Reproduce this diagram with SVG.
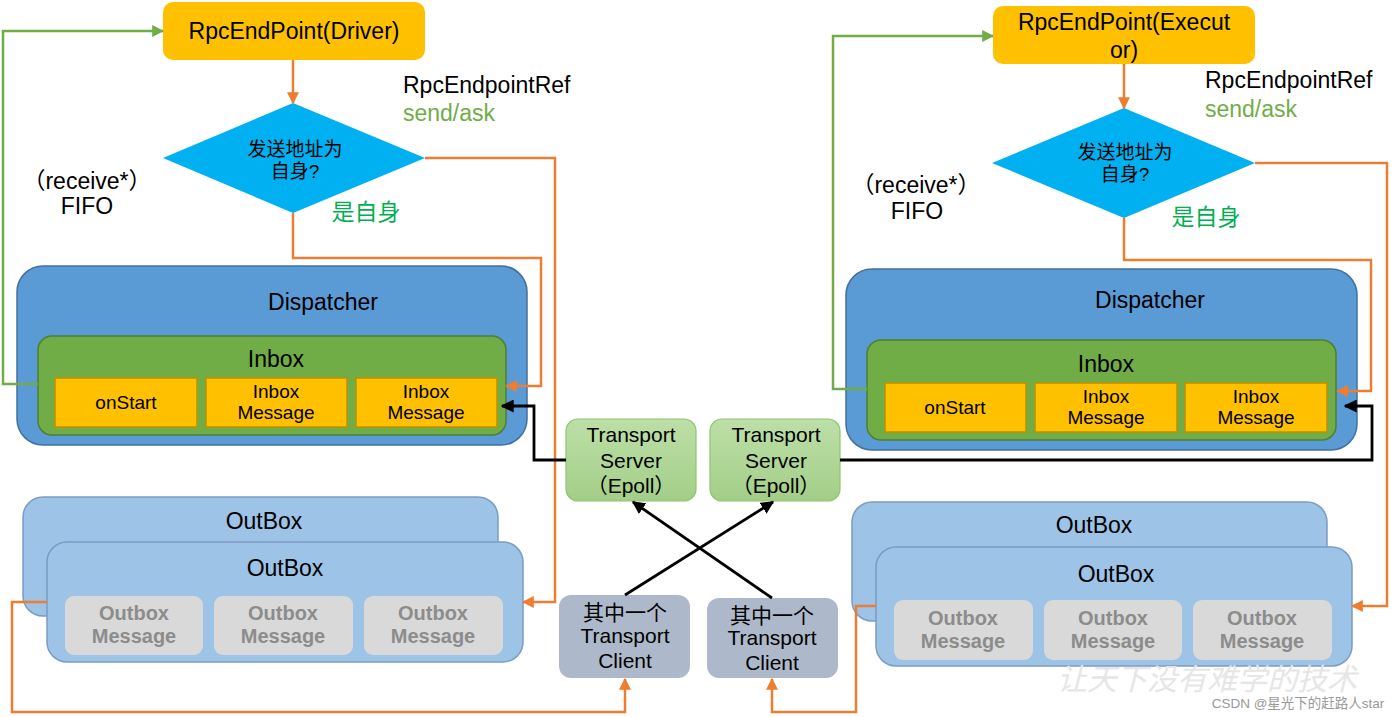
<svg xmlns="http://www.w3.org/2000/svg" width="1400" height="717" viewBox="0 0 1400 717">
<defs>
<style>
text{font-family:"Liberation Sans","Noto Sans CJK SC",sans-serif;fill:#000;text-anchor:middle}
.t22{font-size:23px}
.t21{font-size:21px}
.t19{font-size:19px}
.ylw{fill:#FFC000}
.cell{fill:#FFC000;stroke:#BF9000;stroke-width:1.5}
.dia{fill:#00B0F0}
.disp{fill:#5B9BD5;stroke:#41719C;stroke-width:1.5}
.inbox{fill:#70AD47;stroke:#507E32;stroke-width:1.5}
.outbox{fill:#9DC3E6;stroke:#7B9CC4;stroke-width:1.5}
.omsg{fill:#D9D9D9}
.omt{font-size:20px;font-weight:bold;fill:#8C8C8C}
.ts{fill:url(#tsg);stroke:#8FC470;stroke-width:1.2}
.tc{fill:#ADB9CA}
.or{fill:none;stroke:#ED7D31;stroke-width:2.5;marker-end:url(#ao)}
.gr{fill:none;stroke:#70AD47;stroke-width:2.5;marker-end:url(#ag)}
.bk{fill:none;stroke:#000;stroke-width:2.8;marker-end:url(#ab)}
</style>
<linearGradient id="tsg" x1="0" y1="0" x2="0" y2="1">
<stop offset="0" stop-color="#BDDFA8"/>
<stop offset="1" stop-color="#A3CE87"/>
</linearGradient>
<marker id="ao" viewBox="0 0 10 10" refX="9" refY="5" markerWidth="12" markerHeight="12" markerUnits="userSpaceOnUse" orient="auto"><path d="M0,0 L10,5 L0,10 z" fill="#ED7D31"/></marker>
<marker id="ag" viewBox="0 0 10 10" refX="9" refY="5" markerWidth="12" markerHeight="12" markerUnits="userSpaceOnUse" orient="auto"><path d="M0,0 L10,5 L0,10 z" fill="#70AD47"/></marker>
<marker id="ab" viewBox="0 0 10 10" refX="9" refY="5" markerWidth="13" markerHeight="13" markerUnits="userSpaceOnUse" orient="auto"><path d="M0,0 L10,5 L0,10 z" fill="#000"/></marker>
</defs>
<rect width="1400" height="717" fill="#fff"/>

<!-- LEFT SIDE -->
<g id="rpc-driver">
<rect x="163" y="2" width="262" height="58" rx="10" class="ylw"/>
<text x="294" y="39" class="t22">RpcEndPoint(Driver)</text>
</g>
<g id="diamond-left">
<polygon points="293,103 425,158 293,213 163,158" class="dia"/>
<text x="295" y="156" class="t19">发送地址为</text>
<text x="295" y="178" class="t19">自身?</text>
</g>
<g id="labels-left">
<text x="403" y="93" class="t22" style="text-anchor:start">RpcEndpointRef</text>
<text x="403" y="121" class="t22" style="text-anchor:start;fill:#70AD47">send/ask</text>
<text x="87" y="189" class="t22">（receive*）</text>
<text x="87" y="214" class="t22">FIFO</text>
<text x="366" y="220" style="font-size:23px;fill:#00B050">是自身</text>
</g>
<g id="dispatcher-left">
<rect x="17" y="266" width="510" height="179" rx="26" class="disp"/>
<text x="323" y="310" class="t22">Dispatcher</text>
</g>
<g id="inbox-left">
<rect x="38" y="336" width="468" height="99" rx="14" class="inbox"/>
<text x="276" y="367" class="t22">Inbox</text>
<rect x="55" y="378" width="142" height="49" class="cell"/>
<text x="126" y="409" class="t19">onStart</text>
<rect x="206" y="378" width="141" height="49" class="cell"/>
<text x="276" y="398" class="t19">Inbox</text>
<text x="276" y="419" class="t19">Message</text>
<rect x="356" y="378" width="141" height="49" class="cell"/>
<text x="426" y="398" class="t19">Inbox</text>
<text x="426" y="419" class="t19">Message</text>
</g>
<g id="outbox-left-back">
<rect x="23" y="497" width="475" height="119" rx="20" class="outbox"/>
<text x="264" y="529" class="t22">OutBox</text>
</g>
<g id="outbox-left-front">
<rect x="47" y="542" width="476" height="120" rx="20" class="outbox"/>
<text x="285" y="576" class="t22">OutBox</text>
<rect x="65" y="596" width="138" height="59" rx="9" class="omsg"/>
<text x="134" y="620" class="omt">Outbox</text>
<text x="134" y="643" class="omt">Message</text>
<rect x="214" y="596" width="139" height="59" rx="9" class="omsg"/>
<text x="283" y="620" class="omt">Outbox</text>
<text x="283" y="643" class="omt">Message</text>
<rect x="364" y="596" width="139" height="59" rx="9" class="omsg"/>
<text x="433" y="620" class="omt">Outbox</text>
<text x="433" y="643" class="omt">Message</text>
</g>

<!-- MIDDLE -->
<g id="ts-left">
<rect x="566" y="419" width="130" height="82" rx="12" class="ts"/>
<text x="631" y="442" class="t21">Transport</text>
<text x="631" y="468" class="t21">Server</text>
<text x="631" y="493" class="t21">（Epoll）</text>
</g>
<g id="ts-right">
<rect x="710" y="419" width="130" height="82" rx="12" class="ts"/>
<text x="776" y="442" class="t21">Transport</text>
<text x="776" y="468" class="t21">Server</text>
<text x="776" y="493" class="t21">（Epoll）</text>
</g>
<g id="tc-left">
<rect x="559" y="595" width="131" height="83" rx="12" class="tc"/>
<text x="625" y="620" class="t21">其中一个</text>
<text x="625" y="643" class="t21">Transport</text>
<text x="625" y="668" class="t21">Client</text>
</g>
<g id="tc-right">
<rect x="707" y="598" width="131" height="80" rx="12" class="tc"/>
<text x="772" y="623" class="t21">其中一个</text>
<text x="772" y="645" class="t21">Transport</text>
<text x="772" y="670" class="t21">Client</text>
</g>

<!-- RIGHT SIDE -->
<g id="rpc-executor">
<rect x="993" y="6" width="262" height="58" rx="10" class="ylw"/>
<text x="1124" y="30" class="t22">RpcEndPoint(Execut</text>
<text x="1124" y="58" class="t22">or)</text>
</g>
<g id="diamond-right">
<polygon points="1124,108 1255,163 1124,218 992,163" class="dia"/>
<text x="1125" y="159" class="t19">发送地址为</text>
<text x="1125" y="181" class="t19">自身?</text>
</g>
<g id="labels-right">
<text x="1205" y="88" class="t22" style="text-anchor:start">RpcEndpointRef</text>
<text x="1205" y="117" class="t22" style="text-anchor:start;fill:#70AD47">send/ask</text>
<text x="916" y="193" class="t22">（receive*）</text>
<text x="917" y="219" class="t22">FIFO</text>
<text x="1206" y="225" style="font-size:23px;fill:#00B050">是自身</text>
</g>
<g id="dispatcher-right">
<rect x="846" y="269" width="511" height="181" rx="26" class="disp"/>
<text x="1150" y="308" class="t22">Dispatcher</text>
</g>
<g id="inbox-right">
<rect x="867" y="340" width="469" height="100" rx="14" class="inbox"/>
<text x="1106" y="372" class="t22">Inbox</text>
<rect x="885" y="383" width="141" height="49" class="cell"/>
<text x="955" y="414" class="t19">onStart</text>
<rect x="1035" y="383" width="142" height="49" class="cell"/>
<text x="1106" y="403" class="t19">Inbox</text>
<text x="1106" y="424" class="t19">Message</text>
<rect x="1185" y="383" width="142" height="49" class="cell"/>
<text x="1256" y="403" class="t19">Inbox</text>
<text x="1256" y="424" class="t19">Message</text>
</g>
<g id="outbox-right-back">
<rect x="852" y="502" width="475" height="119" rx="20" class="outbox"/>
<text x="1094" y="533" class="t22">OutBox</text>
</g>
<g id="outbox-right-front">
<rect x="876" y="547" width="476" height="119" rx="20" class="outbox"/>
<text x="1116" y="582" class="t22">OutBox</text>
<rect x="894" y="600" width="139" height="60" rx="9" class="omsg"/>
<text x="963" y="625" class="omt">Outbox</text>
<text x="963" y="648" class="omt">Message</text>
<rect x="1044" y="600" width="138" height="60" rx="9" class="omsg"/>
<text x="1113" y="625" class="omt">Outbox</text>
<text x="1113" y="648" class="omt">Message</text>
<rect x="1193" y="600" width="139" height="60" rx="9" class="omsg"/>
<text x="1262" y="625" class="omt">Outbox</text>
<text x="1262" y="648" class="omt">Message</text>
</g>

<!-- CONNECTORS -->
<g id="connectors">
<path class="or" d="M293,60 V103"/>
<path class="gr" d="M38,384 H3 V31 H163"/>
<path class="or" d="M293,213 V258 H541 V386 H506"/>
<path class="or" d="M425,158 H555 V602 H523"/>
<path class="bk" d="M566,460 H534 V406 H502"/>
<path class="or" d="M47,602 H12 V712 H625 V679"/>
<path class="or" d="M1124,64 V108"/>
<path class="gr" d="M867,389 H833 V36 H993"/>
<path class="or" d="M1124,218 V260 H1371 V391 H1337"/>
<path class="or" d="M1255,163 H1387 V606 H1352"/>
<path class="bk" d="M840,460 H1372 V406 H1345"/>
<path class="or" d="M876,606 H856 V712 H772 V679"/>
<path class="bk" d="M625,595 L773,502"/>
<path class="bk" d="M772,598 L633,502"/>
</g>

<g id="watermark">
<text x="1207" y="690" style="font-size:30px;fill:#E6E6E6;font-style:italic">让天下没有难学的技术</text>
<text x="1298" y="708" style="font-size:13.5px;fill:#999999">CSDN @星光下的赶路人star</text>
</g>
</svg>
